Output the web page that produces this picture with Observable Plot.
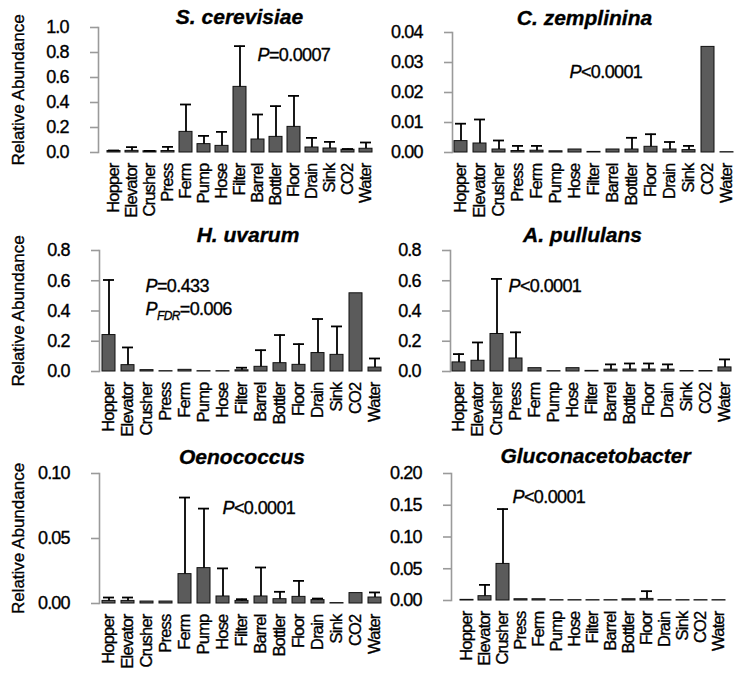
<!DOCTYPE html>
<html><head><meta charset="utf-8">
<script src="https://cdn.jsdelivr.net/npm/d3@7"></script>
<script src="https://cdn.jsdelivr.net/npm/@observablehq/plot@0.6"></script>
<style>
body{margin:0;background:#fff;}
#chart{position:relative;width:742px;height:682px;overflow:hidden;background:#fff;}
#chart svg{position:absolute;left:0;top:0;}
#chart text{stroke:#000;stroke-width:0.35px;}
g[aria-label="x-axis tick label"] text{letter-spacing:-0.8px;stroke-width:0.55px;}
g[aria-label="y-axis tick label"] text{letter-spacing:-0.9px;stroke-width:0.45px;}
text.pval{letter-spacing:-0.6px;}
</style></head><body><div id="chart"></div>
<script>
const categories = ["Hopper","Elevator","Crusher","Press","Ferm","Pump","Hose","Filter","Barrel","Bottler","Floor","Drain","Sink","CO2","Water"];

const scerMean = [0.012,0.013,0.010,0.012,0.165,0.067,0.053,0.525,0.104,0.125,0.205,0.040,0.032,0.022,0.030];
const scerSd   = [0.004,0.030,0.003,0.033,0.219,0.066,0.112,0.326,0.200,0.246,0.248,0.077,0.053,0.006,0.050];
const scerTicks = [0,0.2,0.4,0.6,0.8,1.0];

const czemMean = [0.0038,0.0030,0.0010,0.0005,0.0006,0.0004,0.0010,0.0002,0.0010,0.0010,0.0019,0.0010,0.0008,0.0352,0.0001];
const czemSd   = [0.0058,0.0080,0.0030,0.0017,0.0016,0,0,0,0,0.0039,0.0042,0.0025,0.0014,0,0];
const czemTicks = [0,0.01,0.02,0.03,0.04];

const huvaMean = [0.241,0.042,0.009,0.002,0.011,0.002,0.002,0.008,0.031,0.055,0.044,0.122,0.110,0.517,0.026];
const huvaSd   = [0.364,0.117,0,0,0,0,0,0.017,0.110,0.186,0.137,0.225,0.188,0,0.060];
const huvaTicks = [0,0.2,0.4,0.6,0.8];

const apulMean = [0.060,0.071,0.248,0.086,0.022,0.002,0.022,0.004,0.012,0.013,0.013,0.012,0.003,0.003,0.027];
const apulSd   = [0.055,0.121,0.364,0.173,0,0,0,0,0.035,0.040,0.040,0.035,0,0,0.053];
const apulTicks = [0,0.2,0.4,0.6,0.8];

const oenoMean = [0.0020,0.0020,0.0015,0.0015,0.0226,0.0272,0.0054,0.0020,0.0054,0.0033,0.0051,0.0026,0.0003,0.0080,0.0046];
const oenoSd   = [0.0026,0.0026,0,0,0.0589,0.0458,0.0216,0.0013,0.0223,0.0057,0.0123,0.0012,0,0,0.0039];
const oenoTicks = [0,0.05,0.10];

const glucMean = [0.0010,0.0068,0.0576,0.0020,0.0020,0.0005,0.0005,0.0005,0.0005,0.0020,0.0025,0.0005,0.0005,0.0005,0.0005];
const glucSd   = [0,0.0178,0.0864,0,0,0,0,0,0,0,0.0122,0,0,0,0];
const glucTicks = [0,0.05,0.10,0.15,0.20];

const titles = ["S. cerevisiae","C. zemplinina","H. uvarum","A. pullulans","Oenococcus","Gluconacetobacter"];
const pvalues = [["=0.0007"],["<0.0001"],["=0.433","FDR=0.006"],["<0.0001"],["<0.0001"],["<0.0001"]];
const yLabel = "Relative Abundance";

const f1 = d3.format(".1f"), f2 = d3.format(".2f");
const layout = [
  {mean:scerMean, sd:scerSd, ticks:scerTicks, fmt:f1, left:98, right:380, top:27, bottom:152, tdx:0, tdy:-4, p:[[159,33]], ylab:true},
  {mean:czemMean, sd:czemSd, ticks:czemTicks, fmt:f2, left:452, right:736, top:32, bottom:152, tdx:-10, tdy:-8, p:[[117,45]], ylab:false},
  {mean:huvaMean, sd:huvaSd, ticks:huvaTicks, fmt:f1, left:99, right:384, top:250, bottom:371, tdx:6, tdy:-9, p:[[46,41],[46,64]], ylab:true},
  {mean:apulMean, sd:apulSd, ticks:apulTicks, fmt:f1, left:450, right:734, top:250, bottom:371, tdx:-10, tdy:-9, p:[[58,41]], ylab:false},
  {mean:oenoMean, sd:oenoSd, ticks:oenoTicks, fmt:f2, left:99, right:384, top:473, bottom:603, tdx:0, tdy:-10, p:[[123,40]], ylab:true},
  {mean:glucMean, sd:glucSd, ticks:glucTicks, fmt:f2, left:451, right:733, top:473, bottom:600, tdx:3, tdy:-11, p:[[61,29]], ylab:false}
];

const W = 742, H = 682;
const chart = document.getElementById("chart");
const ns = "http://www.w3.org/2000/svg";

layout.forEach((L, k) => {
  const data = categories.map((c, i) => ({cat: c, mean: L.mean[i], sd: L.sd[i]}));
  const err = data.filter(d => d.sd > 0);
  const marks = [
    Plot.frame({anchor: "left", stroke: "#9a9a9a", strokeWidth: 1.6}),
    Plot.axisY({ticks: L.ticks, tickFormat: L.fmt, tickSize: 8, tickPadding: 22, stroke: "#9a9a9a", strokeWidth: 1.6, fill: "black", fontSize: 18, label: null}),
    Plot.axisX({tickSize: 0, tickPadding: 11, tickRotate: -90, fontSize: 16.5, label: null}),
    Plot.barY(data, {x: "cat", y: "mean", fill: "#5b5b5b", stroke: "#111", strokeWidth: 1}),
    Plot.ruleX(err, {x: "cat", y1: "mean", y2: d => d.mean + d.sd, stroke: "#000", strokeWidth: 1.8}),
    Plot.tickY(err, {x: "cat", y: d => d.mean + d.sd, stroke: "#000", strokeWidth: 1.8, insetLeft: 1, insetRight: 1}),
    Plot.text([titles[k]], {frameAnchor: "top", dx: L.tdx, dy: L.tdy, lineAnchor: "bottom", fontSize: 21, fontWeight: "bold", fontStyle: "italic"})
  ];
  pvalues[k].forEach((s, j) => {
    marks.push(Plot.text(["P" + s], {frameAnchor: "top-left", textAnchor: "start", lineAnchor: "bottom", dx: L.p[j][0], dy: L.p[j][1], fontSize: 18}));
  });
  if (L.ylab) {
    marks.push(Plot.text([yLabel], {frameAnchor: "left", textAnchor: "middle", rotate: -90, dx: 18 - L.left, fontSize: 17}));
  }
  const svg = Plot.plot({
    width: W, height: H,
    marginLeft: L.left, marginRight: W - L.right, marginTop: L.top, marginBottom: H - L.bottom,
    style: {background: "transparent", overflow: "visible", fontFamily: "Liberation Sans, Arial, sans-serif", color: "black"},
    x: {domain: categories, paddingInner: 0.3, paddingOuter: 0.1},
    y: {domain: [0, L.ticks[L.ticks.length - 1]]},
    marks
  });
  svg.querySelectorAll("text").forEach(t => {
    const full = t.textContent;
    if (!/^P(=|<|FDR)/.test(full)) return;
    const s = full.slice(1);
    t.classList.add("pval");
    while (t.firstChild) t.removeChild(t.firstChild);
    const p = document.createElementNS(ns, "tspan");
    p.setAttribute("font-style", "italic"); p.textContent = "P"; t.appendChild(p);
    if (s.startsWith("FDR")) {
      const sub = document.createElementNS(ns, "tspan");
      sub.setAttribute("font-style", "italic"); sub.setAttribute("font-size", "12");
      sub.setAttribute("dy", "5"); sub.textContent = "FDR"; t.appendChild(sub);
      const rest = document.createElementNS(ns, "tspan");
      rest.setAttribute("dy", "-5"); rest.textContent = s.slice(3); t.appendChild(rest);
    } else {
      const rest = document.createElementNS(ns, "tspan");
      rest.textContent = s; t.appendChild(rest);
    }
  });
  chart.appendChild(svg);
});
</script>
</body></html>
